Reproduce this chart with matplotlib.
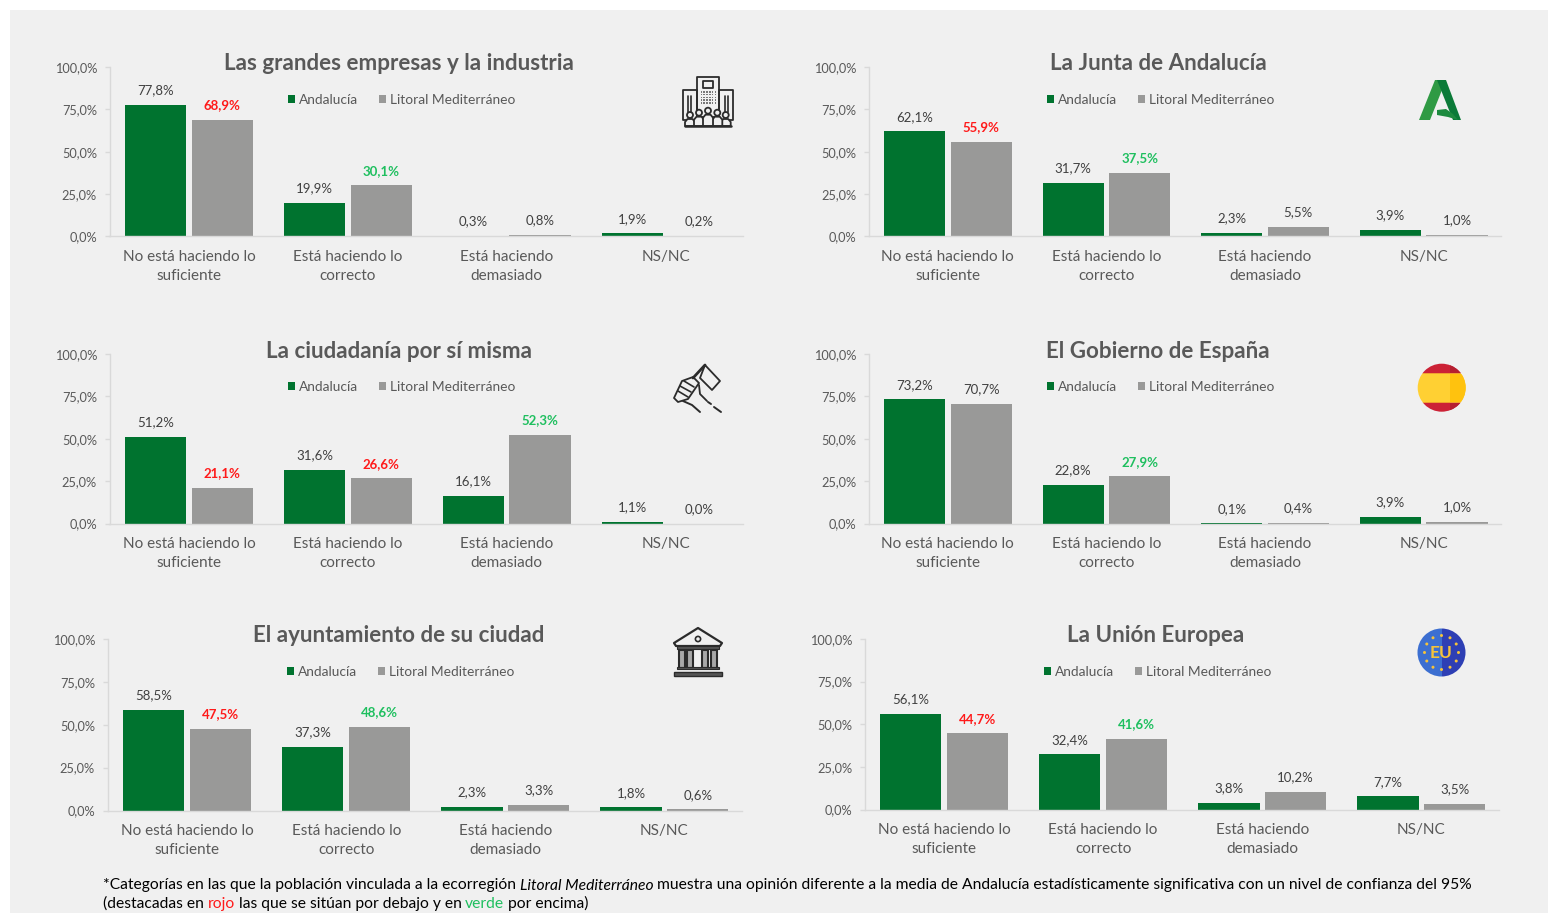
"""Opinion por institucion: Andalucia frente a Litoral Mediterraneo."""
import math

import matplotlib

matplotlib.use("Agg")
import matplotlib.pyplot as plt
from matplotlib.patches import Circle, Polygon, Rectangle
from matplotlib.ticker import FuncFormatter

W, H = 1548, 913
GREEN = "#00732f"
GRAY = "#999998"
TEXT = "#595959"
FONT = ["Lato", "Roboto", "DejaVu Sans"]

categories = ["No está haciendo lo\nsuficiente", "Está haciendo lo\ncorrecto",
              "Está haciendo\ndemasiado", "NS/NC"]
series_names = ["Andalucía", "Litoral Mediterráneo"]

titles = ["Las grandes empresas y la industria", "La Junta de Andalucía",
          "La ciudadanía por sí misma", "El Gobierno de España",
          "El ayuntamiento de su ciudad", "La Unión Europea"]

andalucia = [[77.8, 19.9, 0.3, 1.9], [62.1, 31.7, 2.3, 3.9], [51.2, 31.6, 16.1, 1.1],
             [73.2, 22.8, 0.1, 3.9], [58.5, 37.3, 2.3, 1.8], [56.1, 32.4, 3.8, 7.7]]
litoral = [[68.9, 30.1, 0.8, 0.2], [55.9, 37.5, 5.5, 1.0], [21.1, 26.6, 52.3, 0.0],
           [70.7, 27.9, 0.4, 1.0], [47.5, 48.6, 3.3, 0.6], [44.7, 41.6, 10.2, 3.5]]
# r = por debajo, g = por encima, n = sin diferencia
signif = [["r", "g", "n", "n"], ["r", "g", "n", "n"], ["r", "r", "g", "n"],
          ["n", "g", "n", "n"], ["r", "g", "n", "n"], ["r", "g", "n", "n"]]
sig_colors = {"r": "#ff1a1a", "g": "#1fbf5f", "n": "#404040"}

# left, right, y of 0 %, y of 100 %, in pixels
boxes = [(109.5, 745, 236.5, 67), (868.5, 1503, 236.5, 67),
         (109.5, 745, 523.5, 354), (868.5, 1503, 523.5, 354),
         (107.5, 744, 810.5, 639), (864.5, 1501, 809.5, 639)]
title_x = [399, 1158, 399, 1158, 399, 1156]
legend_x = [402, 1161, 402, 1161, 401, 1158]

plt.rcParams["font.family"] = FONT
fig = plt.figure(figsize=(W / 100, H / 100), dpi=100, facecolor="white")

# overlay in pixel coordinates for panel background, icons and footnote
bg = fig.add_axes([0, 0, 1, 1], zorder=0)
bg.set_xlim(0, W)
bg.set_ylim(H, 0)
bg.axis("off")
bg.add_patch(Rectangle((10, 10), W - 10, H - 10, color="#f0f0f0", lw=0))


def pct(v):
    return f"{v:.1f}%".replace(".", ",")


for i, (left, right, y0, y100) in enumerate(boxes):
    ax = fig.add_axes([left / W, (H - y0) / H, (right - left) / W, (y0 - y100) / H], zorder=1)
    ax.patch.set_alpha(0)
    xs = range(len(categories))
    b1 = ax.bar([x - 0.21 for x in xs], andalucia[i], 0.385, color=GREEN, label=series_names[0])
    b2 = ax.bar([x + 0.21 for x in xs], litoral[i], 0.385, color=GRAY, label=series_names[1])
    for bar, v in zip(b1, andalucia[i]):
        ax.annotate(pct(v), (bar.get_x() + bar.get_width() / 2, v), xytext=(0, 10.5),
                    textcoords="offset points", ha="center", va="center",
                    fontsize=9.5, color="#404040")
    for bar, v, s in zip(b2, litoral[i], signif[i]):
        ax.annotate(pct(v), (bar.get_x() + bar.get_width() / 2, v), xytext=(0, 10.5),
                    textcoords="offset points", ha="center", va="center",
                    fontsize=9.5, color=sig_colors[s], fontweight="bold" if s != "n" else "normal")
    ax.set_xlim(-0.5, 3.5)
    ax.set_ylim(0, 100)
    ax.set_yticks([0, 25, 50, 75, 100])
    ax.yaxis.set_major_formatter(FuncFormatter(lambda v, _: pct(v)))
    ax.set_xticks(list(xs))
    ax.set_xticklabels(categories, linespacing=1.45)
    ax.tick_params(axis="y", length=3.6, width=1, color="#d9d9d9", pad=5.4, labelsize=9.2, labelcolor=TEXT)
    ax.tick_params(axis="x", length=0, pad=10, labelsize=11, labelcolor=TEXT)
    for side in ["top", "right"]:
        ax.spines[side].set_visible(False)
    for side in ["left", "bottom"]:
        ax.spines[side].set_color("#d9d9d9")
        ax.spines[side].set_linewidth(1)
    ax.spines["bottom"].set_bounds(-0.5, 3.487)
    fig.text(title_x[i] / W, 1 - (y100 - 3) / H, titles[i], ha="center", va="center",
             fontsize=16.1, color=TEXT, fontweight="bold", zorder=3)
    ax.legend(loc="center", bbox_to_anchor=(legend_x[i] / W, 1 - (y100 + 33) / H),
              bbox_transform=fig.transFigure, ncols=2, frameon=False, fontsize=9.9,
              labelcolor=TEXT, handlelength=0.5, handleheight=0.5, handletextpad=0.3,
              columnspacing=1.5, borderpad=0)

# pixel overlay for the icons, above the charts
ov = fig.add_axes([0, 0, 1, 1], zorder=2)
ov.set_xlim(0, W)
ov.set_ylim(H, 0)
ov.axis("off")
INK = "#2b2b2b"
PANEL = "#f0f0f0"


def outline(pts, lw=1.3, fc="none", closed=True):
    ov.add_patch(Polygon(pts, closed=closed, fc=fc, ec=INK, lw=lw, joinstyle="round"))


def line(pts, lw=1.3, color=INK):
    ov.plot([p[0] for p in pts], [p[1] for p in pts], color=color, lw=lw, solid_capstyle="round")


def building():
    outline([(697, 117), (697, 77), (719, 77), (719, 117)])
    outline([(683, 120), (683, 90), (697, 90), (697, 120)])
    outline([(733, 120), (733, 90), (719, 90), (719, 120)])
    outline([(703, 81), (713, 81), (713, 88), (703, 88)])
    for c in range(6):
        for r in range(5):
            ov.add_patch(Rectangle((700.5 + c * 2.8, 91 + r * 2.8), 1.7, 1.7, color="#777777", lw=0))
    for x in (688, 691, 725, 728):
        line([(x, 96), (x, 112)], 1.2)
    for x, head in [(690, 115), (725.7, 115), (699, 112.7), (717.3, 112.7), (708, 110.7)]:
        top = head + 4
        outline([(x - 5, 126), (x - 5, top + 3), (x - 2.5, top), (x + 2.5, top), (x + 5, top + 3), (x + 5, 126)],
                fc=PANEL)
        ov.add_patch(Circle((x, head), 3, fc=PANEL, ec=INK, lw=1.3))
    line([(685, 126), (731, 126)], 1.8)


def flag_hand():
    line([(693, 378), (705, 365)], 2.0)
    outline([(705, 365), (720, 381), (712, 390), (700, 378)], fc=PANEL)
    outline([(674, 398), (682, 381), (693, 377), (699, 383), (688, 399), (678, 402)], fc=PANEL)
    for a, b in [((678, 391), (688, 397)), ((680, 386), (691, 392)), ((684, 381), (694, 387))]:
        line([a, b], 1.2)
    line([(699, 385), (700, 394), (707, 401)], 1.3)
    line([(683, 401), (692, 405), (700, 412)], 1.4)
    line([(708, 402), (711, 404)], 1.4)
    line([(714, 407), (721, 412)], 1.4)


def temple():
    outline([(674, 643), (698, 628), (722, 643), (720, 646), (676, 646)], lw=1.6)
    ov.add_patch(Circle((698, 639), 2.6, fc="none", ec=INK, lw=1.2))
    ov.add_patch(Rectangle((677, 646), 42, 3.5, fc="#555555", ec=INK, lw=0.8))
    for x in (679, 687, 702, 711):
        ov.add_patch(Rectangle((x, 650), 6, 18, fc="#a8a8a8", ec=INK, lw=1.5))
    ov.add_patch(Rectangle((677, 667), 42, 2.5, fc="#555555", ec=INK, lw=0.8))
    ov.add_patch(Rectangle((674, 672), 48, 4, fc="#555555", ec=INK, lw=1.0))


def junta():
    ov.add_patch(Polygon([(1419, 120), (1435, 80), (1446, 80), (1430, 120)], fc="#2f9a44", lw=0))
    ov.add_patch(Polygon([(1437, 80), (1446, 80), (1461, 120), (1453, 120)], fc="#0b7a38", lw=0))
    ov.add_patch(Polygon([(1437, 110), (1446, 109), (1453, 114), (1458, 120), (1448, 117), (1437, 115)],
                         fc="#1d8a3f", lw=0))


def spain():
    clip = Circle((1441.7, 387.7), 24, transform=ov.transData)
    rows = [(363, 10, "#cc2236"), (372.7, 1.6, "#f0a030"), (374.3, 27.4, "#ffd033"),
            (401.7, 1.6, "#f0a030"), (403.3, 10, "#cc2236")]
    for y, h, c in rows:
        ov.add_patch(Rectangle((1417, y), 50, h, fc=c, lw=0, clip_path=clip))
    ov.add_patch(Rectangle((1450, 374.3), 17, 27.4, fc="#ffc20e", lw=0, clip_path=clip))
    ov.add_patch(Rectangle((1450, 363), 17, 9.7, fc="#b51f30", lw=0, clip_path=clip))
    ov.add_patch(Rectangle((1450, 403.3), 17, 10, fc="#b51f30", lw=0, clip_path=clip))


def europe():
    cx, cy = 1441.5, 652.5
    clip = Circle((cx, cy), 24, transform=ov.transData)
    ov.add_patch(Rectangle((cx - 25, cy - 25), 25.5, 50, fc="#3c6fd1", lw=0, clip_path=clip))
    ov.add_patch(Rectangle((cx + 0.5, cy - 25), 25, 50, fc="#2e3fb4", lw=0, clip_path=clip))
    for k in range(12):
        a = math.radians(30 * k)
        ov.add_patch(Circle((cx + 17 * math.cos(a), cy + 17 * math.sin(a)), 1.5, fc="#f5c33b", lw=0))
    ov.text(cx, cy + 0.5, "EU", ha="center", va="center", fontsize=12.5, fontweight="bold", color="#f5c33b")


building()
flag_hand()
temple()
junta()
spain()
europe()

# footnote, pieces chained so colours and italics follow each other
FOOT = 11.22


def chain(pieces, x, y):
    prev = ov.text(x, y, pieces[0][0], va="center", ha="left", fontsize=FOOT,
                   color=pieces[0][1], style=pieces[0][2])
    for text, color, st in pieces[1:]:
        prev = ov.annotate(text, xy=(1, 0), xycoords=prev, xytext=(2.7, 0), textcoords="offset points",
                           va="bottom", ha="left", fontsize=FOOT, color=color, style=st)


chain([("*Categorías en las que la población vinculada a la ecorregión", "#000000", "normal"),
       ("Litoral Mediterráneo", "#000000", "italic"),
       ("muestra una opinión diferente a la media de Andalucía estadísticamente significativa "
        "con un nivel de confianza del 95%", "#000000", "normal")], 103, 885.5)
chain([("(destacadas en", "#000000", "normal"), ("rojo", "#ff1a1a", "normal"),
       ("las que se sitúan por debajo y en", "#000000", "normal"), ("verde", "#1fbf5f", "normal"),
       ("por encima)", "#000000", "normal")], 103, 903.5)

fig.savefig("out.png", dpi=100, facecolor="white")
